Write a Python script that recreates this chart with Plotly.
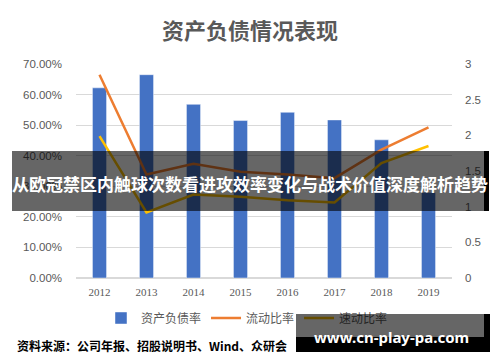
import plotly.graph_objects as go

years = ["2012", "2013", "2014", "2015", "2016", "2017", "2018", "2019"]
debt_ratio = [0.622, 0.665, 0.568, 0.515, 0.542, 0.517, 0.452, 0.280]
current_ratio = [2.85, 1.45, 1.60, 1.49, 1.45, 1.40, 1.80, 2.11]
quick_ratio = [1.99, 0.92, 1.17, 1.14, 1.09, 1.06, 1.61, 1.85]

left_ticks = [0, 0.1, 0.2, 0.3, 0.4, 0.5, 0.6, 0.7]
right_ticks = [0, 0.5, 1, 1.5, 2, 2.5, 3]
right_tick_text = ["0", "0.5", "1", "1.5", "2", "2.5", "3"]

title_text = "资产负债情况表现"
banner_text = "从欧冠禁区内触球次数看进攻效率变化与战术价值深度解析趋势"
source_text = "资料来源：公司年报、招股说明书、Wind、众研会"
watermark_text = "www.cn-play-pa.com"

W, H = 500, 362
L, R, T, B = 76, 48, 64, 84
PW, PH = W - L - R, H - T - B


def px(x):
    return (x - L) / PW


def py(y):
    return (H - B - y) / PH


GRAY = "#595959"
fig = go.Figure()
fig.add_trace(go.Bar(
    x=years, y=debt_ratio, name="资产负债率",
    marker=dict(color="#4472C4", line=dict(color="rgba(255,255,255,0.45)", width=1)),
    width=0.3, yaxis="y",
))
fig.add_trace(go.Scatter(
    x=years, y=current_ratio, name="流动比率", mode="lines",
    line=dict(color="#ED7D31", width=2.5), yaxis="y2",
))
fig.add_trace(go.Scatter(
    x=years, y=quick_ratio, name="速动比率", mode="lines",
    line=dict(color="#FFC000", width=2.5), yaxis="y2",
))

fig.update_layout(
    width=W, height=H,
    margin=dict(l=L, r=R, t=T, b=B),
    paper_bgcolor="white", plot_bgcolor="white",
    showlegend=True,
    title=dict(text=title_text, x=0.5, xanchor="center", y=1 - 31.5 / H, yanchor="middle",
               font=dict(family="Noto Sans CJK SC", size=22, color=GRAY, weight="bold")),
    xaxis=dict(
        type="category", showgrid=False, showline=False, ticks="",
        tickfont=dict(family="Liberation Serif", size=11, color=GRAY),
        ticklabelstandoff=6,
    ),
    yaxis=dict(
        range=[0, 0.7], tickvals=left_ticks, tickformat=".2%",
        showgrid=True, gridcolor="#D9D9D9", gridwidth=1, zeroline=True,
        zerolinecolor="#D9D9D9", showline=False, ticks="",
        tickfont=dict(family="Liberation Sans", size=11.5, color=GRAY),
        ticklabelstandoff=13,
    ),
    yaxis2=dict(
        range=[0, 3], tickvals=right_ticks, ticktext=right_tick_text,
        overlaying="y", side="right", showgrid=False, zeroline=False,
        showline=False, ticks="",
        tickfont=dict(family="Liberation Sans", size=11.5, color=GRAY),
        ticklabelstandoff=12,
    ),
    legend=dict(
        orientation="h", x=px(101), xanchor="left", y=py(318), yanchor="middle",
        font=dict(family="Noto Sans CJK SC", size=12, color=GRAY),
        bgcolor="rgba(0,0,0,0)",
    ),
    bargap=0.7,
)

# dark banner overlay
fig.add_shape(type="rect", xref="paper", yref="paper", layer="above",
              x0=px(12), x1=px(484), y0=py(211), y1=py(151),
              fillcolor="rgba(0,0,0,0.6)", line=dict(width=0))
fig.add_shape(type="rect", xref="paper", yref="paper", layer="above",
              x0=px(484), x1=px(489), y0=py(211), y1=py(151),
              fillcolor="black", line=dict(width=0))
fig.add_annotation(text=banner_text, xref="paper", yref="paper",
                   x=px(250), y=py(183), xanchor="center", yanchor="middle",
                   showarrow=False,
                   font=dict(family="Noto Sans CJK SC", size=17, color="white", weight="bold"))

# source note
fig.add_annotation(text=source_text, xref="paper", yref="paper",
                   x=px(15), y=py(345), xanchor="left", yanchor="middle",
                   showarrow=False,
                   font=dict(family="Noto Sans CJK SC", size=12, color="black", weight="bold"))

# watermark box (annotations sit above the legend)
fig.add_annotation(text=" ", xref="paper", yref="paper",
                   x=px(296), y=py(314), xanchor="left", yanchor="top",
                   width=188, height=23, borderpad=0, borderwidth=0,
                   bgcolor="rgba(0,0,0,0.6)", showarrow=False, font=dict(size=1))
fig.add_annotation(text=" ", xref="paper", yref="paper",
                   x=px(484), y=py(314), xanchor="left", yanchor="top",
                   width=6, height=38, borderpad=0, borderwidth=0,
                   bgcolor="black", showarrow=False, font=dict(size=1))
fig.add_annotation(text=" ", xref="paper", yref="paper",
                   x=px(296), y=py(337), xanchor="left", yanchor="top",
                   width=188, height=15, borderpad=0, borderwidth=0,
                   bgcolor="black", showarrow=False, font=dict(size=1))
fig.add_annotation(text=watermark_text, xref="paper", yref="paper",
                   x=px(391), y=py(337), xanchor="center", yanchor="middle",
                   showarrow=False,
                   font=dict(family="Noto Sans", size=15, color="white", weight="bold"))

fig.write_html("out.html", config={"displayModeBar": False},
               post_script="document.body.style.margin='0';document.body.style.padding='0';")
